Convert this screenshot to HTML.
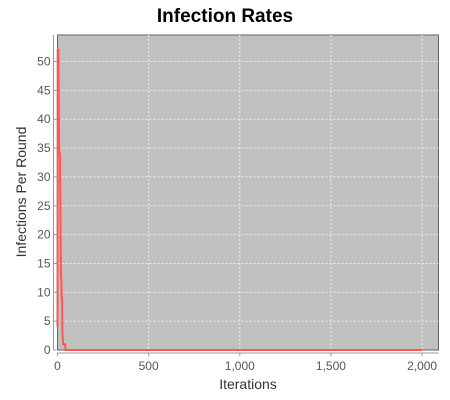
<!DOCTYPE html>
<html><head><meta charset="utf-8"><style>
body{margin:0;background:#fff;}
svg{display:block;font-family:"Liberation Sans","DejaVu Sans",sans-serif;}
</style></head><body>
<svg id="chart" width="450" height="400" viewBox="0 0 450 400">
<text x="225" y="22" text-anchor="middle" font-size="19" font-weight="bold" fill="#000">Infection Rates</text>
<rect x="57.5" y="35" width="381" height="315" fill="#c0c0c0" stroke="#666" stroke-width="1"/>
<g id="grid"></g>
<g id="axes"></g>
<g id="series"></g>
<text x="248" y="389" text-anchor="middle" font-size="14" fill="#333">Iterations</text>
<text transform="translate(26,192) rotate(-90)" text-anchor="middle" font-size="14" fill="#333">Infections Per Round</text>
</svg>
<script>
const xTicks = [0, 500, 1000, 1500, 2000];
const xTickLabels = ["0", "500", "1,000", "1,500", "2,000"];
const yTicks = [0, 5, 10, 15, 20, 25, 30, 35, 40, 45, 50];
const iterations = [0, 1, 2, 5, 7, 9, 11, 13, 15, 17, 19, 21, 23, 25, 27, 29, 31, 36, 42, 44, 2000];
const infections = [4, 52, 52, 52, 42, 34, 34, 34, 27, 20, 13, 12, 9, 9, 3, 2, 1, 1, 1, 0, 0];

const NS = "http://www.w3.org/2000/svg";
const L = 57.5, R = 438.5, T = 35, B = 350;
const xMax = 2090, yMax = 54.6;
function xs(v){ return L + v / xMax * (R - L); }
function ys(v){ return B - v / yMax * (B - T); }
function mk(tag, attrs, parent){ const e = document.createElementNS(NS, tag); for (const k in attrs) e.setAttribute(k, attrs[k]); parent.appendChild(e); return e; }

const grid = document.getElementById('grid'), axes = document.getElementById('axes'), series = document.getElementById('series');
xTicks.forEach((v, i) => {
  const x = xs(v);
  if (v > 0) {
    const g = mk('line', {x1:x, x2:x, y1:T, y2:B, stroke:'#eee', 'stroke-dasharray':'2,2', 'stroke-width':1}, grid);
    
    
  }
  const tk = mk('line', {x1:x, x2:x, y1:B+3, y2:B+6, stroke:'#999'}, axes);
  
  
  const t = mk('text', {x:x, y:B+20, 'text-anchor':'middle', 'font-size':12, fill:'#555'}, axes);
  t.textContent = xTickLabels[i];
  
  
});
yTicks.forEach(v => {
  const y = ys(v);
  if (v > 0) {
    const g = mk('line', {x1:L, x2:R, y1:y, y2:y, stroke:'#eee', 'stroke-dasharray':'2,2', 'stroke-width':1}, grid);
    
    
  }
  const tk = mk('line', {x1:L-4, x2:L-1, y1:y, y2:y, stroke:'#999'}, axes);
  
  
  const t = mk('text', {x:L-7, y:y+4, 'text-anchor':'end', 'font-size':12, fill:'#555'}, axes);
  t.textContent = v;
  
  
});
const xa = mk('line', {x1:L, x2:R, y1:B+3, y2:B+3, stroke:'#999'}, axes);


const ya = mk('line', {x1:L-4, x2:L-4, y1:T, y2:B, stroke:'#999'}, axes);



let d = '';
iterations.forEach((it, i) => { d += (i ? 'L' : 'M') + xs(it).toFixed(2) + ',' + ys(infections[i]).toFixed(2); });
const line = mk('path', {d:d, fill:'none', stroke:'#ff5555', 'stroke-width':2, 'stroke-linejoin':'miter'}, series);


</script>
</body></html>
